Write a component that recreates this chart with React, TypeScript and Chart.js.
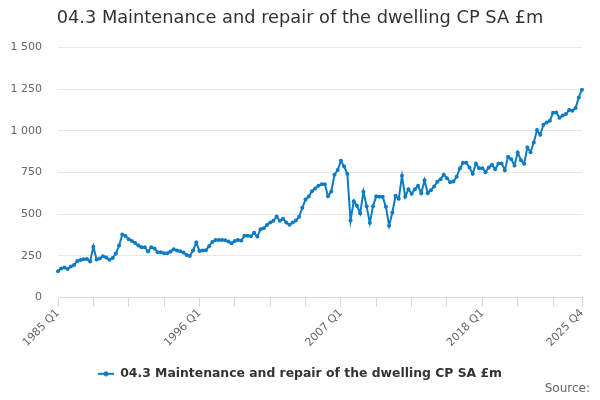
import { useEffect, useRef } from "react";
import { Chart, registerables } from "chart.js";

Chart.register(...registerables);

const seriesName = "04.3 Maintenance and repair of the dwelling CP SA £m";
const firstYear = 1985;
const lastYear = 2025;
const tickLabels = ["1985 Q1", "1996 Q1", "2007 Q1", "2018 Q1", "2025 Q4"];

// quarterly values, £m
const values1985to1989 = [158, 174, 180, 172, 186, 196, 220, 226, 230, 231, 216, 305, 228, 234, 248, 240, 227, 238, 264, 312];
const values1990to1994 = [378, 369, 350, 340, 328, 312, 302, 302, 276, 302, 294, 272, 272, 266, 266, 276, 290, 282, 278, 270];
const values1995to1999 = [256, 250, 282, 330, 280, 282, 284, 308, 334, 346, 346, 346, 344, 336, 326, 340, 346, 342, 370, 370];
const values2000to2004 = [368, 388, 366, 410, 415, 435, 450, 460, 486, 460, 472, 450, 436, 450, 462, 484, 538, 588, 606, 638];
const values2005to2009 = [654, 670, 680, 680, 608, 636, 736, 765, 820, 786, 742, 462, 578, 550, 505, 635, 548, 448, 548, 608];
const values2010to2014 = [604, 604, 544, 430, 510, 610, 592, 730, 604, 650, 622, 650, 670, 626, 704, 626, 644, 666, 694, 710];
const values2015to2019 = [736, 716, 692, 696, 724, 774, 808, 808, 780, 742, 804, 776, 776, 752, 780, 796, 770, 804, 804, 764];
const values2020to2025 = [844, 830, 792, 870, 824, 802, 900, 872, 930, 1004, 976, 1036, 1050, 1060, 1108, 1110, 1078, 1092, 1100, 1124, 1120, 1136, 1200, 1246];

const quarters: string[] = [];
for (let y = firstYear; y <= lastYear; y++) {
  for (let q = 1; q <= 4; q++) quarters.push(`${y} Q${q}`);
}

const values = [
  ...values1985to1989,
  ...values1990to1994,
  ...values1995to1999,
  ...values2000to2004,
  ...values2005to2009,
  ...values2010to2014,
  ...values2015to2019,
  ...values2020to2025,
];

const BLUE = "#0d7cc1";
const FONT = "DejaVu Sans";

function formatThousands(v: number) {
  if (v < 1000) return String(v);
  return `${Math.floor(v / 1000)} ${String(v % 1000).padStart(3, "0")}`;
}

export default function App() {
  const canvasRef = useRef<HTMLCanvasElement>(null);

  useEffect(() => {
    if (!canvasRef.current) return;

    // legend symbol: short line with a dot
    const icon = document.createElement("canvas");
    icon.width = 16;
    icon.height = 8;
    const ictx = icon.getContext("2d");
    if (ictx) {
      ictx.strokeStyle = BLUE;
      ictx.lineWidth = 2;
      ictx.beginPath();
      ictx.moveTo(0, 4);
      ictx.lineTo(16, 4);
      ictx.stroke();
      ictx.fillStyle = BLUE;
      ictx.beginPath();
      ictx.arc(8, 4, 2.5, 0, Math.PI * 2);
      ictx.fill();
    }

    const sourcePlugin = {
      id: "sourceText",
      afterDraw(chart: Chart) {
        const ctx = chart.ctx;
        ctx.save();
        ctx.font = `12px "${FONT}"`;
        ctx.fillStyle = "#666666";
        ctx.textAlign = "right";
        ctx.textBaseline = "middle";
        ctx.fillText("Source:", 590, 389);
        ctx.restore();
      },
    };

    const chart = new Chart(canvasRef.current, {
      type: "line",
      data: {
        labels: quarters,
        datasets: [
          {
            label: seriesName,
            data: values,
            borderColor: BLUE,
            backgroundColor: BLUE,
            borderWidth: 2,
            pointRadius: 2,
            pointBorderWidth: 0,
            pointBackgroundColor: BLUE,
            tension: 0,
          },
        ],
      },
      options: {
        animation: false,
        responsive: false,
        maintainAspectRatio: false,
        layout: { padding: { left: 0, right: 0, top: 0, bottom: 10 } },
        plugins: {
          title: {
            display: true,
            text: seriesName,
            color: "#333333",
            font: { family: FONT, size: 17.8, weight: "normal" },
            padding: { top: 8, bottom: 18 },
          },
          legend: {
            position: "bottom",
            labels: {
              usePointStyle: true,
              pointStyle: icon,
              pointStyleWidth: 16,
              color: "#333333",
              font: { family: FONT, size: 12.4, weight: "bold" },
              padding: 10,
            },
          },
          tooltip: { enabled: false },
        },
        scales: {
          x: {
            type: "category",
            afterBuildTicks: (scale: any) => {
              scale.ticks = scale.ticks.filter(
                (t: any) => t.value % 11 === 0 || t.value === quarters.length - 1
              );
            },
            afterFit: (scale: any) => {
              scale.height = 60;
              scale.paddingRight = 18;
            },
            grid: {
              drawOnChartArea: false,
              drawTicks: true,
              tickLength: 9,
              tickColor: "#ccd6eb",
            },
            border: { display: true, color: "#ccd6eb", width: 1 },
            ticks: {
              autoSkip: false,
              maxRotation: 45,
              minRotation: 45,
              padding: 0,
              color: "#666666",
              font: { family: FONT, size: 11 },
              callback: (value: any) => {
                const label = quarters[value as number];
                return tickLabels.includes(label) ? label : "";
              },
            },
          },
          y: {
            min: 0,
            max: 1500,
            afterFit: (scale: any) => {
              scale.width = 58;
            },
            grid: { color: "#e6e6e6", drawTicks: false },
            border: { display: false },
            ticks: {
              stepSize: 250,
              padding: 16,
              color: "#666666",
              font: { family: FONT, size: 11 },
              callback: (value: any) => formatThousands(value as number),
            },
          },
        },
      },
      plugins: [sourcePlugin],
    });

    return () => chart.destroy();
  }, []);

  return (
    <div style={{ position: "fixed", left: 0, top: 0, width: 600, height: 400, background: "#fff" }}>
      <canvas ref={canvasRef} width={600} height={400} style={{ width: 600, height: 400 }} />
    </div>
  );
}
